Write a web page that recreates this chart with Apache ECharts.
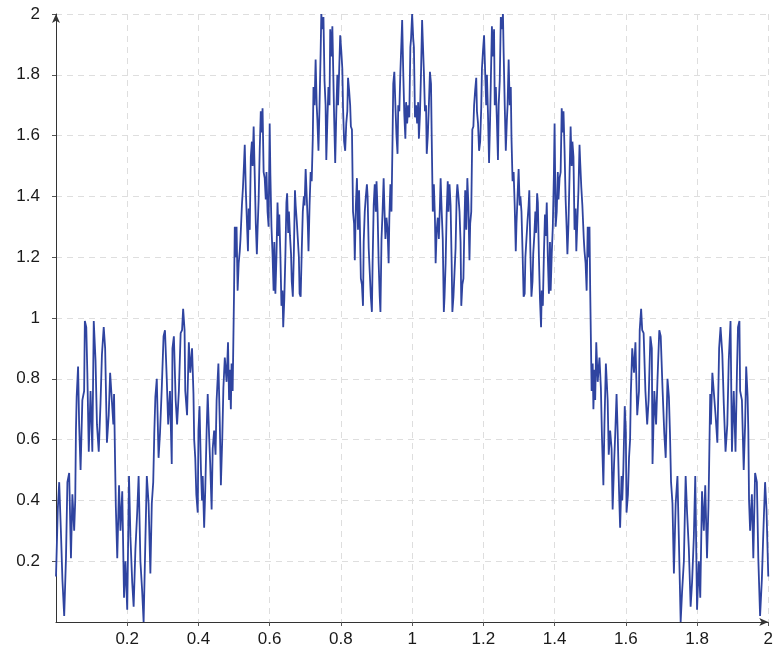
<!DOCTYPE html>
<html>
<head>
<meta charset="utf-8">
<script src="https://cdn.jsdelivr.net/npm/echarts@6/dist/echarts.min.js"></script>
<style>
  html, body { margin: 0; padding: 0; background: #fff; }
  #chart { width: 776px; height: 657px; }
</style>
</head>
<body>
<div id="chart"></div>
<script>
// Sample positions and values of the curve, left half [0, 1]
const xLeft = [
  0.000,0.005,0.009,0.014,0.018,0.023,0.028,0.032,0.037,0.042,0.046,0.051,0.054,0.056,0.058,0.062,0.065,0.069,0.074,0.079,
  0.081,0.085,0.088,0.092,0.097,0.102,0.106,0.111,0.115,0.120,0.125,0.129,0.134,0.138,0.143,0.148,0.152,0.157,0.161,0.163,0.166,
  0.168,0.172,0.177,0.181,0.186,0.191,0.195,0.200,0.205,0.209,0.214,0.218,0.223,0.228,0.232,0.237,0.242,0.246,0.251,0.255,
  0.260,0.265,0.269,0.273,0.276,0.279,0.283,0.288,0.292,0.297,0.302,0.306,0.311,0.315,0.320,0.325,
  0.327,0.331,0.336,0.340,0.345,0.350,0.354,0.357,0.361,0.363,0.368,0.373,0.377,0.382,0.386,0.388,0.391,0.394,0.398,0.400,
  0.403,0.407,0.410,0.412,0.416,0.419,0.423,0.426,0.430,0.433,0.437,0.440,0.444,0.448,0.451,0.456,0.460,0.463,0.467,0.470,
  0.474,0.479,0.483,0.486,0.488,0.491,0.493,0.496,
  0.500,0.502,0.505,0.507,0.510,0.513,0.516,0.518,0.522,0.525,0.528,0.530,0.533,0.536,0.539,0.541,0.544,0.547,0.550,0.552,
  0.555,0.558,0.561,0.564,0.566,0.569,0.572,0.575,0.577,0.580,0.583,0.586,0.589,0.591,0.594,0.597,0.600,0.602,0.605,
  0.608,0.611,0.613,0.616,0.619,0.622,0.625,0.627,0.630,0.633,0.636,0.638,0.641,0.644,0.647,0.649,0.652,0.654,0.657,0.660,
  0.662,0.665,0.668,0.671,0.673,0.676,0.679,0.682,0.684,0.687,0.690,0.693,0.696,0.698,0.701,0.704,0.707,0.709,0.712,0.715,0.718,
  0.721,0.723,0.726,0.729,0.732,0.734,0.737,0.740,0.743,0.745,0.748,0.751,0.754,0.757,0.759,0.762,0.765,0.768,0.770,0.773,
  0.776,0.779,0.781,0.784,0.787,0.790,0.792,0.795,0.798,0.801,0.804,0.806,0.809,0.812,0.815,0.818,0.820,0.823,0.826,0.828,0.831,
  0.834,0.837,0.839,0.842,0.845,0.848,0.851,0.853,0.856,0.859,0.862,0.864,0.867,0.870,0.873,0.875,0.878,0.881,0.884,0.887,
  0.889,0.892,0.895,0.898,0.900,0.903,0.906,0.909,0.911,0.914,0.917,0.920,0.922,0.925,0.928,0.931,0.934,0.936,0.939,0.942,
  0.945,0.947,0.950,0.953,0.956,0.959,0.961,0.964,0.967,0.970,0.972,0.975,0.978,0.981,0.983,0.986,0.989,0.992,0.995,0.997,1.000
];
const yLeft = [
  0.15,0.37,0.46,0.29,0.14,0.02,0.21,0.46,0.49,0.21,0.42,0.30,0.40,0.63,0.74,0.84,0.65,0.50,0.73,0.76,
  0.99,0.97,0.82,0.56,0.76,0.56,0.99,0.86,0.65,0.56,0.72,0.88,0.97,0.90,0.59,0.68,0.82,0.82,0.65,0.75,0.52,
  0.38,0.21,0.45,0.30,0.43,0.08,0.20,0.04,0.48,0.28,0.13,0.05,0.24,0.36,0.48,0.20,0.10,0.00,0.27,0.48,
  0.39,0.16,0.39,0.46,0.62,0.74,0.80,0.54,0.62,0.77,0.94,0.96,0.80,0.65,0.76,0.52,
  0.90,0.94,0.73,0.65,0.76,0.95,0.96,1.03,0.96,0.76,0.68,0.92,0.82,0.90,0.75,0.60,0.54,0.42,0.36,0.63,
  0.71,0.50,0.40,0.48,0.31,0.43,0.63,0.75,0.61,0.52,0.37,0.57,0.63,0.55,0.73,0.85,0.65,0.45,0.61,0.77,
  0.87,0.79,0.92,0.73,0.83,0.70,0.85,0.76,
  1.09,1.30,1.20,1.30,1.09,1.18,1.22,1.26,1.37,1.43,1.51,1.57,1.42,1.32,1.22,1.36,1.29,1.53,1.58,1.50,
  1.63,1.47,1.31,1.21,1.29,1.39,1.55,1.68,1.61,1.69,1.48,1.46,1.39,1.48,1.35,1.30,1.64,1.47,1.30,
  1.21,1.09,1.25,1.08,1.20,1.38,1.27,1.34,1.21,1.04,1.09,0.97,1.06,1.20,1.38,1.41,1.28,1.35,1.27,1.21,
  1.12,1.07,1.22,1.42,1.37,1.32,1.26,1.20,1.08,1.07,1.22,1.35,1.40,1.37,1.49,1.40,1.31,1.22,1.37,1.48,1.45,
  1.59,1.76,1.70,1.85,1.70,1.65,1.55,1.70,1.87,2.00,1.95,1.99,1.78,1.70,1.52,1.65,1.76,1.70,1.95,1.86,
  1.96,1.78,1.66,1.51,1.67,1.80,1.70,1.81,1.93,1.88,1.82,1.69,1.58,1.55,1.64,1.68,1.79,1.75,1.70,1.63,1.62,
  1.35,1.31,1.19,1.37,1.46,1.29,1.42,1.32,1.13,1.11,1.04,1.25,1.35,1.40,1.44,1.40,1.23,1.15,1.07,1.02,
  1.18,1.37,1.44,1.35,1.45,1.35,1.18,1.07,1.02,1.26,1.35,1.46,1.37,1.26,1.33,1.29,1.18,1.33,1.44,1.35,
  1.59,1.77,1.81,1.70,1.60,1.54,1.70,1.68,1.81,1.91,1.98,1.81,1.67,1.59,1.71,1.64,1.70,1.66,1.89,1.92,2.00
];

// Right half (1, 2]
const xRight = [
  1.003,1.005,1.008,1.011,1.014,1.017,1.019,1.022,1.025,1.028,1.030,1.033,1.036,1.039,1.041,1.044,1.047,1.050,1.053,1.055,
  1.058,1.061,1.064,1.066,1.069,1.072,1.075,1.078,1.080,1.083,1.086,1.089,1.091,1.094,1.097,1.100,1.102,1.105,1.108,1.111,
  1.113,1.116,1.119,1.122,1.125,1.127,1.130,1.133,1.136,1.138,1.141,1.144,1.147,1.149,1.152,1.155,1.158,1.161,1.163,1.166,
  1.169,1.172,1.174,1.177,1.180,1.182,1.185,1.188,1.191,1.194,1.196,1.199,1.202,1.205,1.208,1.210,1.213,1.216,1.219,1.221,
  1.224,1.227,1.230,1.232,1.235,1.238,1.241,1.243,1.246,1.249,1.252,1.255,1.257,1.260,1.263,1.266,1.268,1.271,1.274,1.277,1.279,
  1.282,1.285,1.288,1.291,1.293,1.296,1.299,1.302,1.304,1.307,1.310,1.313,1.316,1.318,1.321,1.324,1.327,1.329,1.332,1.335,
  1.338,1.340,1.343,1.346,1.348,1.351,1.353,1.356,1.359,1.362,1.364,1.367,1.370,1.373,1.375,1.378,1.381,1.384,1.387,1.389,1.392,
  1.395,1.398,1.400,1.403,1.406,1.409,1.411,1.414,1.417,1.420,1.423,1.425,1.428,1.431,1.434,1.436,1.439,1.442,1.445,1.448,
  1.450,1.453,1.456,1.459,1.461,1.464,1.467,1.470,1.472,1.475,1.478,1.482,1.484,1.487,1.490,1.493,1.495,1.498,1.500,
  1.504,1.507,1.509,1.512,1.514,1.517,1.521,1.526,1.530,1.533,1.537,1.540,1.544,1.549,1.552,1.556,1.560,1.563,1.567,1.570,
  1.574,1.577,1.581,1.584,1.588,1.590,1.593,1.597,1.600,1.602,1.606,1.609,1.612,1.614,1.618,1.623,1.627,1.632,1.637,1.639,
  1.643,1.646,1.650,1.655,1.660,1.664,1.669,1.673,
  1.675,1.680,1.685,1.689,1.694,1.698,1.703,1.708,1.712,1.717,1.721,1.724,1.727,1.731,1.735,1.740,
  1.745,1.749,1.754,1.758,1.763,1.768,1.772,1.777,1.782,1.786,1.791,1.795,1.800,1.805,1.809,1.814,1.819,1.823,1.828,1.832,
  1.834,1.837,1.839,1.843,1.848,1.852,1.857,1.862,1.866,1.871,1.875,1.880,1.885,1.889,1.894,1.898,1.903,1.908,1.912,1.915,
  1.919,1.921,1.926,1.931,1.935,1.938,1.942,1.944,1.946,1.949,1.954,1.958,1.963,1.968,1.972,1.977,1.982,1.986,1.991,1.995,2.000
];
const yRight = [
  1.92,1.89,1.66,1.70,1.64,1.71,1.59,1.67,1.81,1.98,1.91,1.81,1.68,1.70,1.54,1.60,1.70,1.81,1.77,1.59,
  1.35,1.44,1.33,1.18,1.29,1.33,1.26,1.37,1.46,1.35,1.26,1.02,1.07,1.18,1.35,1.45,1.35,1.44,1.37,1.18,
  1.02,1.07,1.15,1.23,1.40,1.44,1.40,1.35,1.25,1.04,1.11,1.13,1.32,1.42,1.29,1.46,1.37,1.19,1.31,1.35,
  1.62,1.63,1.70,1.75,1.79,1.68,1.64,1.55,1.58,1.69,1.82,1.88,1.93,1.81,1.70,1.80,1.67,1.51,1.66,1.78,
  1.96,1.86,1.95,1.70,1.76,1.65,1.52,1.70,1.78,1.99,1.95,2.00,1.87,1.70,1.55,1.65,1.70,1.85,1.70,1.76,1.59,
  1.45,1.48,1.37,1.22,1.31,1.40,1.49,1.37,1.40,1.35,1.22,1.07,1.08,1.20,1.26,1.32,1.37,1.42,1.22,1.07,
  1.12,1.21,1.27,1.35,1.28,1.41,1.38,1.20,1.06,0.97,1.09,1.04,1.21,1.34,1.27,1.38,1.20,1.08,1.25,1.09,1.21,
  1.30,1.47,1.64,1.30,1.35,1.48,1.39,1.46,1.48,1.69,1.61,1.68,1.55,1.39,1.29,1.21,1.31,1.47,1.63,1.50,
  1.58,1.53,1.29,1.36,1.22,1.32,1.42,1.57,1.51,1.43,1.37,1.26,1.22,1.18,1.09,1.30,1.20,1.30,1.09,
  0.76,0.85,0.70,0.83,0.73,0.92,0.79,0.87,0.77,0.61,0.45,0.65,0.85,0.73,0.55,0.63,0.57,0.37,0.52,0.61,
  0.75,0.63,0.43,0.31,0.48,0.40,0.50,0.71,0.63,0.36,0.42,0.54,0.60,0.75,0.90,0.82,0.92,0.68,0.76,0.96,
  1.03,0.96,0.95,0.76,0.65,0.73,0.94,0.90,
  0.52,0.76,0.65,0.80,0.96,0.94,0.77,0.62,0.54,0.80,0.74,0.62,0.46,0.39,0.16,0.39,
  0.48,0.27,0.00,0.10,0.20,0.48,0.36,0.24,0.05,0.13,0.28,0.48,0.04,0.20,0.08,0.43,0.30,0.45,0.21,0.38,
  0.52,0.75,0.65,0.82,0.82,0.68,0.59,0.90,0.97,0.88,0.72,0.56,0.65,0.86,0.99,0.56,0.76,0.56,0.82,0.97,
  0.99,0.76,0.73,0.50,0.65,0.84,0.74,0.63,0.40,0.30,0.42,0.21,0.49,0.46,0.21,0.02,0.14,0.29,0.46,0.37,0.15
];

// Axis tick settings
const axisMin = 0;
const axisMax = 2;
const tickStep = 0.2;

const xs = xLeft.concat(xRight);
const ys = yLeft.concat(yRight);
const points = xs.map((x, i) => [x, ys[i]]);

const chart = echarts.init(document.getElementById('chart'), null, { renderer: 'canvas' });

const labelStyle = {
  color: '#1a1a1a',
  fontFamily: 'Liberation Sans, Arial, sans-serif',
  fontSize: 17
};
const gridLine = {
  show: true,
  lineStyle: { color: '#dedede', width: 1, type: [6, 5] }
};
const axisLineStyle = {
  show: true,
  symbol: ['none', 'arrow'],
  symbolSize: [6, 9],
  lineStyle: { color: '#333', width: 1 }
};

chart.setOption({
  animation: false,
  backgroundColor: '#fff',
  grid: { left: 56, right: 0, top: 14, bottom: 35, containLabel: false },
  xAxis: {
    type: 'value',
    min: axisMin,
    max: axisMax,
    interval: tickStep,
    axisLine: axisLineStyle,
    axisTick: { show: true, length: 4, lineStyle: { color: '#555' } },
    axisLabel: Object.assign({ showMinLabel: false, margin: 9 }, labelStyle),
    splitLine: gridLine
  },
  yAxis: {
    type: 'value',
    min: axisMin,
    max: axisMax,
    interval: tickStep,
    axisLine: axisLineStyle,
    axisTick: { show: true, length: 4, lineStyle: { color: '#555' } },
    axisLabel: Object.assign({ showMinLabel: false, margin: 16 }, labelStyle),
    splitLine: gridLine
  },
  series: [{
    type: 'line',
    data: points,
    showSymbol: false,
    symbol: 'none',
    clip: false,
    lineStyle: { color: '#2f44a0', width: 1.8 },
    z: 3
  }]
});
</script>
</body>
</html>
